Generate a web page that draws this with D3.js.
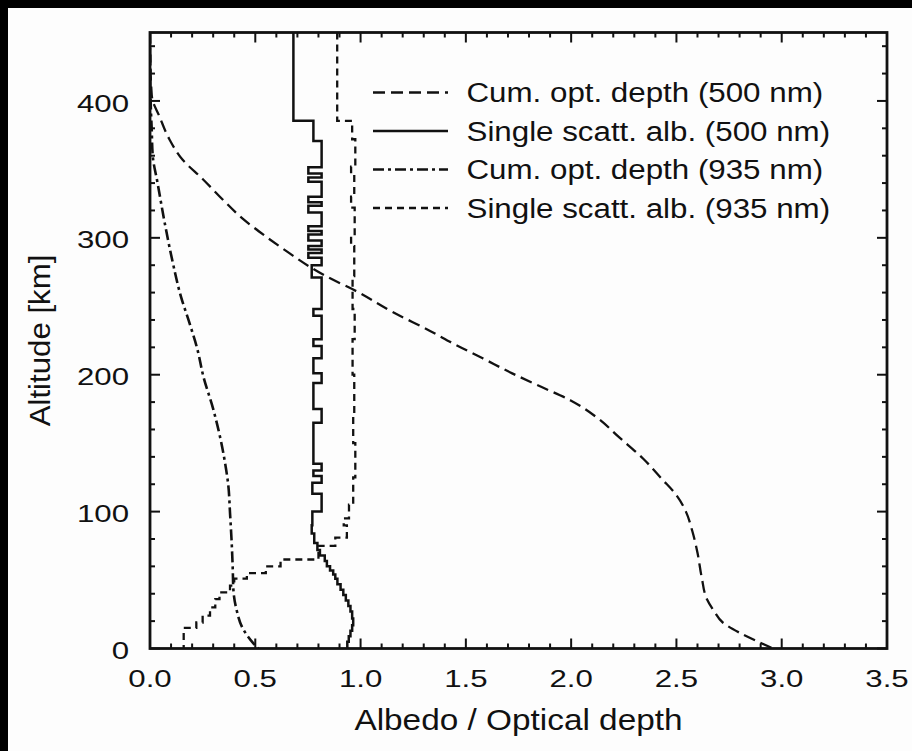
<!DOCTYPE html>
<html>
<head>
<meta charset="utf-8">
<script src="https://cdn.jsdelivr.net/npm/d3@7"></script>
<style>
  html, body { margin: 0; padding: 0; background: #000; }
  svg { display: block; }
</style>
</head>
<body>
<svg id="chart" width="912" height="751"></svg>
<script>
// Cumulative optical depth at 500 nm: [optical depth, altitude km]
const cumDepth500 = [
  [0.0, 450], [0.001, 435], [0.003, 420], [0.006, 410], [0.01, 402],
  [0.044, 389], [0.092, 372], [0.155, 357], [0.25, 343], [0.345, 328],
  [0.44, 314], [0.55, 301], [0.66, 289], [0.757, 279], [0.836, 272],
  [0.98, 261], [1.15, 246], [1.33, 232], [1.45, 222], [1.58, 212],
  [1.72, 201], [1.86, 191], [2.0, 181], [2.12, 169], [2.23, 154],
  [2.34, 139], [2.43, 124], [2.50, 112], [2.545, 100], [2.575, 86],
  [2.60, 70], [2.62, 52], [2.645, 36], [2.68, 27], [2.72, 19],
  [2.80, 11.5], [2.88, 5.5], [2.96, 0]
];

// Cumulative optical depth at 935 nm: [optical depth, altitude km]
const cumDepth935 = [
  [0.0, 450], [0.001, 430], [0.003, 400], [0.008, 380], [0.013, 360],
  [0.036, 340], [0.076, 306], [0.108, 282], [0.147, 257], [0.187, 238],
  [0.226, 218], [0.253, 199], [0.30, 175], [0.332, 155], [0.356, 136],
  [0.372, 119], [0.38, 99], [0.388, 77], [0.393, 58], [0.396, 43],
  [0.41, 29], [0.443, 14], [0.49, 4], [0.515, 0]
];

// Single scattering albedo at 500 nm, per model layer (edges top→bottom, km)
const ssa500Edges = [
  450, 385.5, 370.8, 351.5, 347, 344, 341, 330, 326, 323.5, 318.5, 308.5,
  305, 302.5, 298, 294, 291.5, 289, 285.5, 280, 271, 248, 243, 226, 221,
  212, 201, 194, 175, 165, 135, 130, 126, 121, 113, 100, 90, 84, 77, 72,
  68, 64, 60, 57, 54, 51, 47, 43, 39, 35, 31, 27, 22, 17, 13, 9, 5, 0
];
const ssa500Values = [
  0.681, 0.776, 0.815, 0.752, 0.815, 0.752, 0.815, 0.752, 0.815, 0.752, 0.815,
  0.752, 0.815, 0.752, 0.815, 0.752, 0.815, 0.752, 0.815, 0.768, 0.815, 0.776,
  0.815, 0.776, 0.815, 0.776, 0.815, 0.776, 0.815, 0.776, 0.815, 0.776, 0.815,
  0.771, 0.815, 0.771, 0.768, 0.78, 0.795, 0.807, 0.83, 0.84, 0.855, 0.87,
  0.88, 0.89, 0.905, 0.918, 0.93, 0.942, 0.952, 0.96, 0.965, 0.96, 0.952,
  0.944, 0.937
];

// Single scattering albedo at 935 nm, per model layer (edges top→bottom, km)
const ssa935Edges = [
  450, 385.5, 372, 352, 346, 330, 322, 300, 294, 272, 248, 226, 200, 170,
  150, 125, 105, 95, 90, 81, 75, 65, 60, 55, 51, 46, 41, 36, 30, 24, 19, 15, 0
];
const ssa935Values = [
  0.889, 0.96, 0.975, 0.955, 0.97, 0.955, 0.972, 0.955, 0.97, 0.962, 0.972,
  0.962, 0.97, 0.965, 0.975, 0.965, 0.945, 0.92, 0.935, 0.88, 0.80, 0.62,
  0.55, 0.46, 0.40, 0.38, 0.33, 0.31, 0.285, 0.25, 0.22, 0.16
];

const legendLabels = [
  "Cum. opt. depth (500 nm)",
  "Single scatt. alb. (500 nm)",
  "Cum. opt. depth (935 nm)",
  "Single scatt. alb. (935 nm)"
];

const xMajorTicks = [0, 0.5, 1.0, 1.5, 2.0, 2.5, 3.0, 3.5];
const yMajorTicks = [0, 100, 200, 300, 400];
const xTitle = "Albedo / Optical depth";
const yTitle = "Altitude [km]";

// ---------------------------------------------------------------------------
const W = 912, H = 751;
const FONT = "'Liberation Sans', Arial, Helvetica, sans-serif";
const INK = "#111";
const box = { left: 150, right: 887, top: 32.5, bottom: 648.5 };

const svg = d3.select("#chart");
svg.append("rect").attr("width", W).attr("height", H).attr("fill", "#000");
svg.append("rect").attr("x", 8).attr("y", 8)
  .attr("width", W - 8).attr("height", H - 8).attr("fill", "#fdfdfd");

const x = d3.scaleLinear().domain([0, 3.5]).range([box.left, box.right]);
const y = d3.scaleLinear().domain([0, 450]).range([box.bottom, box.top]);

svg.append("clipPath").attr("id", "plotClip")
  .append("rect")
  .attr("x", box.left).attr("y", box.top)
  .attr("width", box.right - box.left).attr("height", box.bottom - box.top);

// layered profile -> vertical staircase vertices
function layerPoints(edges, values) {
  const pts = [];
  values.forEach((v, i) => {
    pts.push([v, edges[i]]);
    pts.push([v, edges[i + 1]]);
  });
  return pts;
}

const smoothLine = d3.line().x(d => x(d[0])).y(d => y(d[1])).curve(d3.curveMonotoneY);
const stepLine = d3.line().x(d => x(d[0])).y(d => y(d[1]));

const styles = [
  { dash: "12,6", width: 2.3 },
  { dash: null, width: 2.5 },
  { dash: "11,4,3,4", width: 2.6 },
  { dash: "7,5", width: 2.3 }
];

const curves = svg.append("g").attr("clip-path", "url(#plotClip)")
  .attr("fill", "none").attr("stroke", INK).attr("stroke-linejoin", "miter");

const seriesPaths = [
  smoothLine(cumDepth500),
  stepLine(layerPoints(ssa500Edges, ssa500Values)),
  smoothLine(cumDepth935),
  stepLine(layerPoints(ssa935Edges, ssa935Values))
];

seriesPaths.forEach((p, i) => {
  curves.append("path")
    .attr("d", p)
    .attr("stroke-width", styles[i].width)
    .attr("stroke-dasharray", styles[i].dash);
});

// axes: inward ticks on all four sides
const axes = svg.append("g").attr("stroke", INK).attr("fill", "none");
const majorLen = 10, minorLen = 5;

function isMajor(v, step) { return Math.abs(v / step - Math.round(v / step)) < 1e-6; }

const xMinor = d3.range(0, 3.5 + 1e-9, 0.1);
const yMinor = d3.range(0, 450 + 1e-9, 20);

xMinor.forEach(v => {
  const len = isMajor(v, 0.5) ? majorLen : minorLen;
  const px = x(v);
  axes.append("line").attr("x1", px).attr("x2", px)
    .attr("y1", box.bottom).attr("y2", box.bottom - len).attr("stroke-width", 2);
  axes.append("line").attr("x1", px).attr("x2", px)
    .attr("y1", box.top).attr("y2", box.top + len).attr("stroke-width", 2);
});
yMinor.forEach(v => {
  const len = isMajor(v, 100) ? majorLen : minorLen;
  const py = y(v);
  axes.append("line").attr("y1", py).attr("y2", py)
    .attr("x1", box.left).attr("x2", box.left + len).attr("stroke-width", 2);
  axes.append("line").attr("y1", py).attr("y2", py)
    .attr("x1", box.right).attr("x2", box.right - len).attr("stroke-width", 2);
});

axes.append("rect")
  .attr("x", box.left).attr("y", box.top)
  .attr("width", box.right - box.left).attr("height", box.bottom - box.top)
  .attr("stroke-width", 2.8);

// text helper: anchored text, widened horizontally about its anchor
function label(parent, str, px, py, opts) {
  const g = parent.append("g")
    .attr("transform", `translate(${px},${py}) rotate(${opts.rotate || 0}) scale(${opts.sx || 1},1)`);
  g.append("text")
    .attr("x", 0).attr("y", 0)
    .attr("text-anchor", opts.anchor || "start")
    .attr("font-family", FONT)
    .attr("font-size", opts.size)
    .attr("fill", INK)
    .text(str);
}

const texts = svg.append("g");
const fmtX = d3.format(".1f");

xMajorTicks.forEach(v => {
  label(texts, fmtX(v), x(v), 686.7, { size: 24, anchor: "middle", sx: 1.3 });
});
yMajorTicks.forEach(v => {
  label(texts, String(v), 129, y(v) + 10.6, { size: 24, anchor: "end", sx: 1.3 });
});

label(texts, xTitle, (box.left + box.right) / 2, 730, { size: 29, anchor: "middle", sx: 1.15 });
label(texts, yTitle, 50, (box.top + box.bottom) / 2, { size: 30, anchor: "middle", rotate: -90, sx: 1.04 });

// legend
const legendRows = [92.5, 131, 169.5, 208];
const legend = svg.append("g");
legendLabels.forEach((name, i) => {
  legend.append("line")
    .attr("x1", 373).attr("x2", 448)
    .attr("y1", legendRows[i]).attr("y2", legendRows[i])
    .attr("stroke", INK)
    .attr("stroke-width", styles[i].width)
    .attr("stroke-dasharray", styles[i].dash);
  label(legend, name, 466.5, legendRows[i] + 9.7, { size: 27, anchor: "start", sx: 1.16 });
});
</script>
</body>
</html>
